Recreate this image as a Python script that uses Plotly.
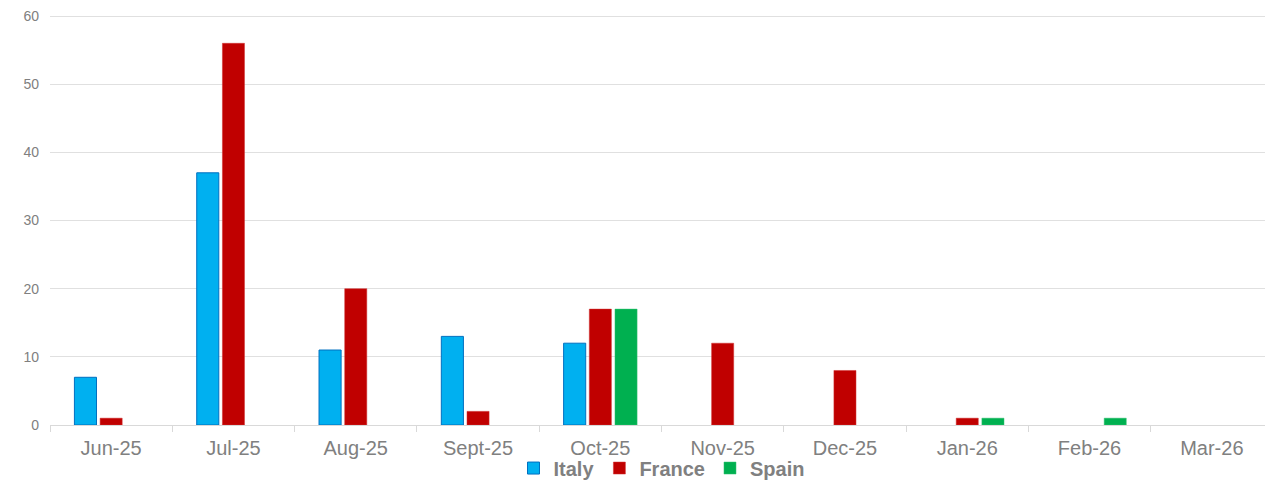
import plotly.graph_objects as go

months = ["Jun-25", "Jul-25", "Aug-25", "Sept-25", "Oct-25", "Nov-25", "Dec-25", "Jan-26", "Feb-26", "Mar-26"]
italy = [7, 37, 11, 13, 12, None, None, None, None, None]
france = [1, 56, 20, 2, 17, 12, 8, 1, None, None]
spain = [None, None, None, None, 17, None, None, 1, 1, None]

fig = go.Figure()
fig.add_trace(go.Bar(name="Italy", x=months, y=italy,
                     marker=dict(color="#00B0F0", line=dict(color="#0070C0", width=1))))
fig.add_trace(go.Bar(name="France", x=months, y=france,
                     marker=dict(color="#C00000", line=dict(color="#D03030", width=0.5))))
fig.add_trace(go.Bar(name="Spain", x=months, y=spain,
                     marker=dict(color="#00B050", line=dict(color="#30C070", width=0.5))))

fig.update_layout(
    width=1265, height=472,
    margin=dict(l=42, r=0, t=7, b=55, autoexpand=False),
    plot_bgcolor="white", paper_bgcolor="white",
    barmode="group", bargap=0.37, bargroupgap=0.14,
    font=dict(family="Arial, Liberation Sans, sans-serif", color="#808080"),
    legend=dict(orientation="h", x=0.5, xanchor="center", y=-0.105, yanchor="middle",
                bgcolor="rgba(0,0,0,0)",
                font=dict(size=20, color="#808080", family="Arial, Liberation Sans, sans-serif", weight="bold"),
                itemwidth=30, traceorder="normal", tracegroupgap=0),
    showlegend=True,
)
fig.update_xaxes(type="category", tickfont=dict(size=20, color="#808080"),
                 showline=True, linecolor="#D9D9D9", linewidth=1,
                 ticks="outside", tickson="boundaries", ticklen=6, tickcolor="#D9D9D9",
                 showgrid=False, automargin=False, ticklabelstandoff=5, ticklabeloverflow="allow")
fig.update_yaxes(range=[0, 60.15], tick0=0, dtick=10, tickfont=dict(size=14, color="#808080"),
                 showgrid=True, gridcolor="#E0E0E0", gridwidth=1, zeroline=False,
                 ticks="", ticklabelstandoff=10, automargin=False, ticklabeloverflow="allow")

fig.write_html("out.html")
